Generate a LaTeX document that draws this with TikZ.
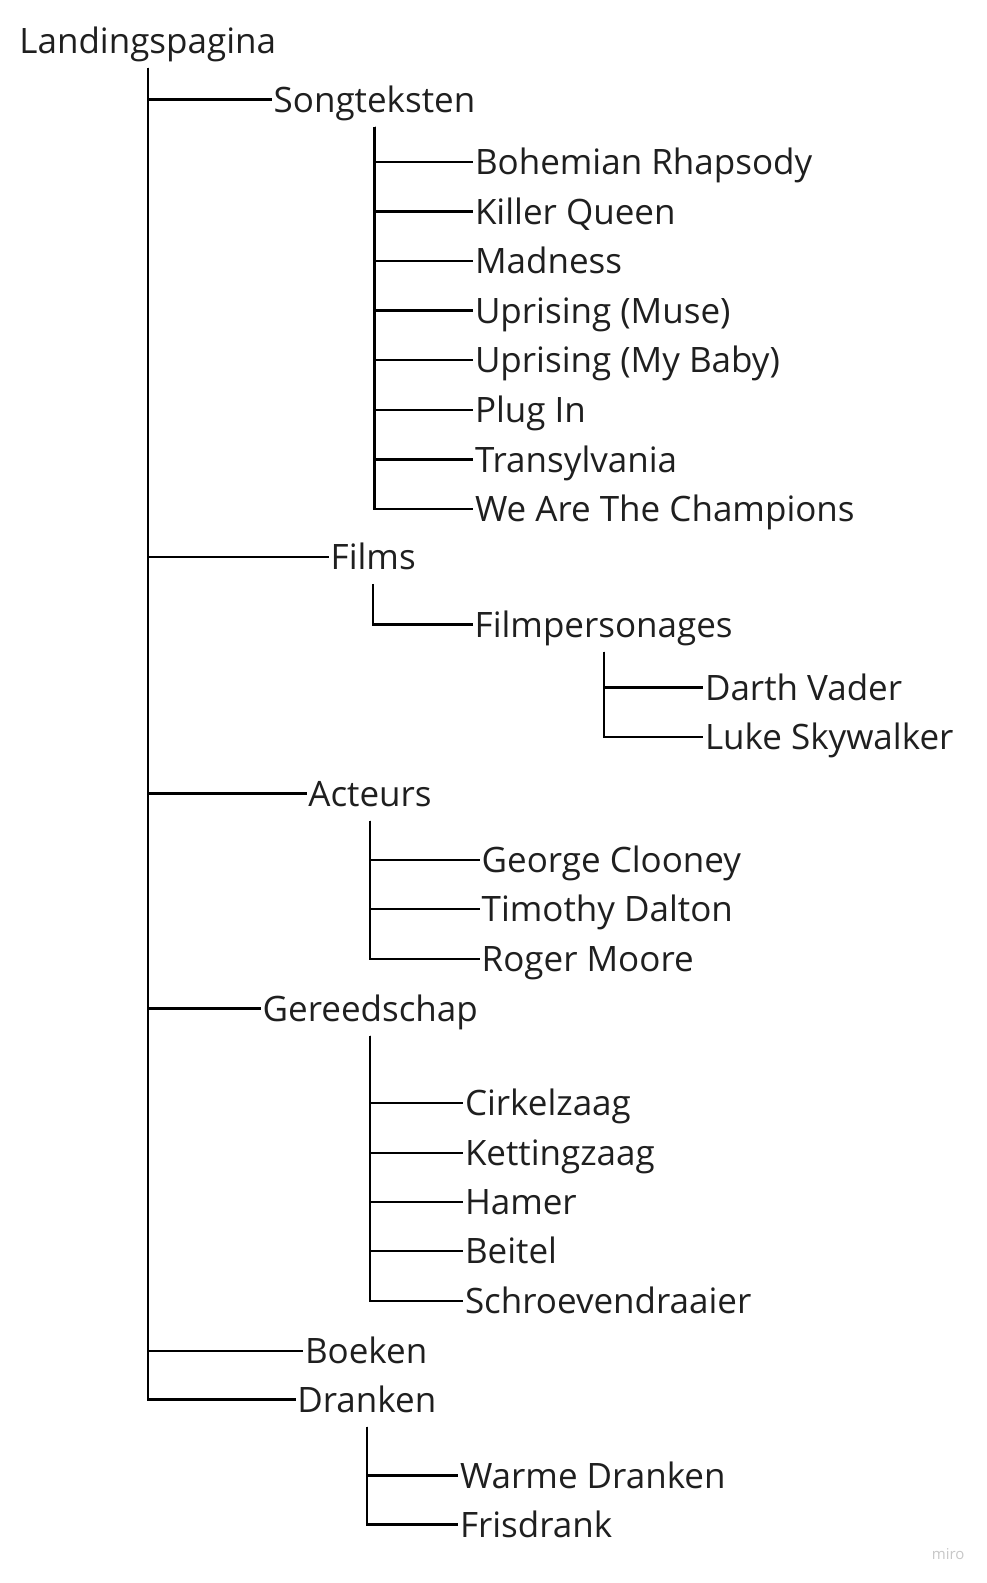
\documentclass[tikz,border=0pt]{standalone}
\usepackage{fontspec}
\setmainfont{Open Sans}
\usepackage{xcolor}
\usepackage{tikz}
\usetikzlibrary{positioning}

\begin{document}
\begin{tikzpicture}[x=1pt, y=-1pt]
		\tikzset{
			item/.style={anchor=west, inner xsep=1.5pt, inner ysep=5.3pt, text height=34.4pt, text depth=9pt,
			font=\fontsize{35}{41}\selectfont, text=black!88},
			link/.style={draw, black, line width=2.4pt}
		}
		\useasboundingbox (0,0) rectangle (986,1583);

		\node[item](root) at (17.7,40.6){Landingspagina};

		\node[item](songs) at (272,99.3){Songteksten};
		\node[item](bohemian) at (473.3,161.7){Bohemian Rhapsody};
		\node[item](killer) at (473.3,211.3){Killer Queen};
		\node[item](madness) at (473.3,260.9){Madness};
		\node[item](muse) at (473.3,310.5){Uprising (Muse)};
		\node[item](baby) at (473.3,360.1){Uprising (My Baby)};
		\node[item](plugin) at (473.3,409.7){Plug In};
		\node[item](transyl) at (473.3,459.3){Transylvania};
		\node[item](champions) at (473.3,509){We Are The Champions};

		\node[item](films) at (329,556.7){Films};
		\node[item](personages) at (473,624.3){Filmpersonages};
		\node[item](vader) at (703.3,687.3){Darth Vader};
		\node[item](luke) at (703.3,736.7){Luke Skywalker};

		\node[item](actors) at (306.7,793.3){Acteurs};
		\node[item](clooney) at (480,860){George Clooney};
		\node[item](dalton) at (480,909){Timothy Dalton};
		\node[item](moore) at (480,958.7){Roger Moore};

		\node[item](tools) at (261,1008.3){Gereedschap};
		\node[item](cirkel) at (463.3,1102.7){Cirkelzaag};
		\node[item](ketting) at (463.3,1152.7){Kettingzaag};
		\node[item](hamer) at (463.3,1202){Hamer};
		\node[item](beitel) at (463.3,1251){Beitel};
		\node[item](schroef) at (463.3,1301){Schroevendraaier};

		\node[item](books) at (303.3,1350.7){Boeken};
		\node[item](drinks) at (295.7,1399.3){Dranken};
		\node[item](warm) at (458.3,1475.3){Warme Dranken};
		\node[item](fris) at (458.3,1524.6){Frisdrank};

		\node[anchor=base west, inner sep=0pt, font=\fontsize{15}{18}\selectfont, text=black!22](miro) at (931.7,1559){miro};

		\draw[link](root.south) |- (songs.west);
		\draw[link](root.south) |- (films.west);
		\draw[link](root.south) |- (actors.west);
		\draw[link](root.south) |- (tools.west);
		\draw[link](root.south) |- (books.west);
		\draw[link](root.south) |- (drinks.west);

		\draw[link](songs.south) |- (bohemian.west);
		\draw[link](songs.south) |- (killer.west);
		\draw[link](songs.south) |- (madness.west);
		\draw[link](songs.south) |- (muse.west);
		\draw[link](songs.south) |- (baby.west);
		\draw[link](songs.south) |- (plugin.west);
		\draw[link](songs.south) |- (transyl.west);
		\draw[link](songs.south) |- (champions.west);

		\draw[link](films.south) |- (personages.west);
		\draw[link](personages.south) |- (vader.west);
		\draw[link](personages.south) |- (luke.west);

		\draw[link](actors.south) |- (clooney.west);
		\draw[link](actors.south) |- (dalton.west);
		\draw[link](actors.south) |- (moore.west);

		\draw[link](tools.south) |- (cirkel.west);
		\draw[link](tools.south) |- (ketting.west);
		\draw[link](tools.south) |- (hamer.west);
		\draw[link](tools.south) |- (beitel.west);
		\draw[link](tools.south) |- (schroef.west);

		\draw[link](drinks.south) |- (warm.west);
		\draw[link](drinks.south) |- (fris.west);

	\end{tikzpicture}
\end{document}
